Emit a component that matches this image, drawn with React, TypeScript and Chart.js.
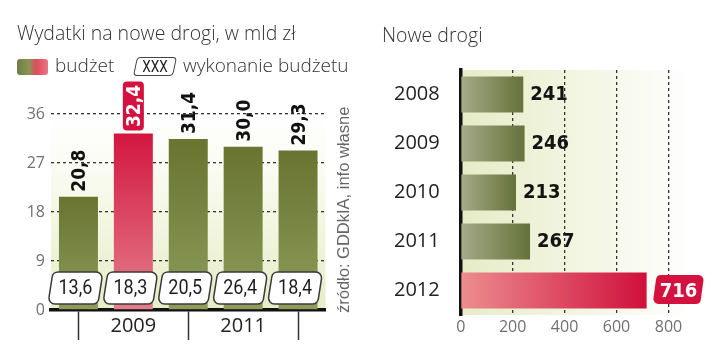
import React, { useEffect, useRef } from 'react';
import { Chart, registerables } from 'chart.js';

Chart.register(...registerables);

// ---- data ----
const spendYears = ['2008', '2009', '2010', '2011', '2012'];
const spendShownYears = ['', '2009', '', '2011', ''];
const budget = [20.8, 32.4, 31.4, 30.0, 29.3];
const executed = [13.6, 18.3, 20.5, 26.4, 18.4];
const spendTicks = [0, 9, 18, 27, 36];
const highlightSpend = 1;

const roadYears = ['2008', '2009', '2010', '2011', '2012'];
const roadKm = [241, 246, 213, 267, 716];
const roadTicks = [0, 200, 400, 600, 800];
const highlightRoad = 4;

const SANS = '"Open Sans", "DejaVu Sans", sans-serif';
const BOLD_COND = '"DejaVu Sans Condensed", "DejaVu Sans", sans-serif';
const NARROW = 'Roboto, "DejaVu Sans Condensed", sans-serif';
const CRIMSON = '#d4123f';

const fmt = (v: number) => v.toFixed(1).replace('.', ',');

function slantPath(ctx: CanvasRenderingContext2D, l: number, t: number, r: number, b: number, skew: number, rad: number) {
  ctx.beginPath();
  ctx.moveTo((l + r - skew) / 2, b);
  ctx.arcTo(l, b, l + skew, t, rad);
  ctx.arcTo(l + skew, t, r, t, rad);
  ctx.arcTo(r, t, r - skew, b, rad);
  ctx.arcTo(r - skew, b, l, b, rad);
  ctx.closePath();
}

function roundRect(ctx: CanvasRenderingContext2D, x: number, y: number, w: number, h: number, r: number) {
  ctx.beginPath();
  ctx.moveTo(x + r, y);
  ctx.arcTo(x + w, y, x + w, y + h, r);
  ctx.arcTo(x + w, y + h, x, y + h, r);
  ctx.arcTo(x, y + h, x, y, r);
  ctx.arcTo(x, y, x + w, y, r);
  ctx.closePath();
}

const leftBgPlugin = {
  id: 'leftBg',
  beforeDraw(chart: any) {
    const { ctx, chartArea: a } = chart;
    if (!a) return;
    const g = ctx.createLinearGradient(0, a.bottom, 0, a.top);
    g.addColorStop(0, '#e6edc6');
    g.addColorStop(0.75, '#fbfcf4');
    g.addColorStop(1, '#ffffff');
    ctx.save();
    ctx.fillStyle = g;
    ctx.fillRect(a.left, a.top, a.right - a.left, a.bottom - a.top);
    ctx.restore();
  },
};

const leftLabelsPlugin = {
  id: 'leftLabels',
  afterDraw(chart: any) {
    const ctx: CanvasRenderingContext2D = chart.ctx;
    const meta = chart.getDatasetMeta(0);
    const y0 = chart.scales.y.getPixelForValue(0);
    meta.data.forEach((bar: any, i: number) => {
      // rotated budget value
      const txt = fmt(budget[i]);
      const fs = 19;
      const capH = fs * 0.73;
      ctx.save();
      ctx.font = `bold ${fs}px ${BOLD_COND}`;
      const w = ctx.measureText(txt).width;
      ctx.translate(bar.x, bar.y);
      ctx.rotate(-Math.PI / 2);
      ctx.textBaseline = 'alphabetic';
      ctx.textAlign = 'left';
      if (i === highlightSpend) {
        ctx.fillStyle = CRIMSON;
        roundRect(ctx, 3, -10.5, w + 7, 21, 4);
        ctx.fill();
        ctx.fillStyle = '#ffffff';
        ctx.fillText(txt, 6.5, capH / 2);
      } else {
        ctx.fillStyle = '#111111';
        ctx.fillText(txt, 5, capH / 2);
      }
      ctx.restore();

      // executed budget box
      const cx = bar.x - 3;
      const cy = y0 - 22;
      ctx.save();
      slantPath(ctx, cx - 27.5, cy - 16, cx + 27.5, cy + 16, 5, 6);
      ctx.fillStyle = '#ffffff';
      ctx.fill();
      ctx.lineWidth = 1.5;
      ctx.strokeStyle = '#3a3a3a';
      ctx.stroke();
      ctx.fillStyle = '#1e1e1e';
      ctx.font = `20px ${NARROW}`;
      ctx.textAlign = 'center';
      ctx.textBaseline = 'middle';
      ctx.translate(cx, cy + 1);
      ctx.scale(0.9, 1);
      ctx.fillText(fmt(executed[i]), 0, 0);
      ctx.restore();
    });
  },
};

const rightBgPlugin = {
  id: 'rightBg',
  beforeDraw(chart: any) {
    const { ctx, chartArea: a } = chart;
    if (!a) return;
    const g = ctx.createLinearGradient(a.left, 0, a.left + 230, 0);
    g.addColorStop(0, '#e6ecc8');
    g.addColorStop(0.6, '#f4f7e6');
    g.addColorStop(1, '#ffffff');
    ctx.save();
    ctx.fillStyle = g;
    ctx.fillRect(a.left, a.top, a.right - a.left, a.bottom - a.top);
    ctx.restore();
  },
};

const rightLabelsPlugin = {
  id: 'rightLabels',
  afterDraw(chart: any) {
    const ctx: CanvasRenderingContext2D = chart.ctx;
    const meta = chart.getDatasetMeta(0);
    meta.data.forEach((bar: any, i: number) => {
      const txt = String(roadKm[i]);
      const fs = 20;
      const capH = fs * 0.73;
      ctx.save();
      ctx.font = `bold ${fs}px ${BOLD_COND}`;
      const w = ctx.measureText(txt).width;
      ctx.textBaseline = 'alphabetic';
      ctx.textAlign = 'left';
      if (i === highlightRoad) {
        const l = bar.x + 6;
        const r = l + w + 14;
        slantPath(ctx, l, bar.y - 15.5, r, bar.y + 13.5, 4, 5);
        ctx.fillStyle = CRIMSON;
        ctx.fill();
        ctx.fillStyle = '#ffffff';
        ctx.fillText(txt, l + 7, bar.y + capH / 2 - 1);
      } else {
        ctx.fillStyle = '#141414';
        ctx.fillText(txt, bar.x + 7, bar.y + capH / 2 - 2);
      }
      ctx.restore();
    });
  },
};

function LeftChart() {
  const ref = useRef<HTMLCanvasElement>(null);
  useEffect(() => {
    const chart = new Chart(ref.current as HTMLCanvasElement, {
      type: 'bar',
      data: {
        labels: spendYears,
        datasets: [
          {
            data: budget,
            barPercentage: 0.71,
            categoryPercentage: 1,
            backgroundColor: (c: any) => {
              const ch = c.chart;
              const hi = c.dataIndex === highlightSpend;
              if (!ch.chartArea || c.type !== 'data') return hi ? CRIMSON : '#6b7631';
              const ys = ch.scales.y;
              const top = ys.getPixelForValue(c.raw);
              const bottom = ys.getPixelForValue(0);
              const g = ch.ctx.createLinearGradient(0, top, 0, bottom);
              if (hi) {
                g.addColorStop(0, '#d3163f');
                g.addColorStop(1, '#e5808c');
              } else {
                g.addColorStop(0, '#68742f');
                g.addColorStop(1, '#8e9c5c');
              }
              return g;
            },
          },
        ],
      },
      options: {
        animation: false,
        responsive: false,
        maintainAspectRatio: false,
        layout: { padding: { top: 114, right: 44.5, left: 0, bottom: 0 } },
        plugins: { legend: { display: false }, tooltip: { enabled: false }, title: { display: false } },
        scales: {
          x: {
            grid: {
              display: true,
              drawOnChartArea: false,
              drawTicks: true,
              tickLength: 30,
              tickWidth: 1.5,
              offset: false,
              tickColor: (c: any) => (c.index % 2 === 0 ? '#333333' : 'rgba(0,0,0,0)'),
            },
            border: { display: true, width: 3.5, color: '#111111' },
            ticks: {
              padding: -26,
              autoSkip: false,
              maxRotation: 0,
              color: '#222222',
              font: { size: 20, family: SANS },
              callback: (_v: any, i: number) => spendShownYears[i],
            },
            afterFit: (s: any) => {
              s.height = 42;
            },
          },
          y: {
            min: 0,
            max: 36,
            z: 1,
            afterBuildTicks: (s: any) => {
              s.ticks = spendTicks.map((v) => ({ value: v }));
            },
            ticks: { padding: 6, color: '#707070', font: { size: 16, family: SANS } },
            grid: {
              drawTicks: false,
              lineWidth: 1.3,
              color: (c: any) => (c.tick && c.tick.value === 0 ? 'rgba(0,0,0,0)' : '#333333'),
            },
            border: { display: false, dash: [3, 3] },
            afterFit: (s: any) => {
              s.width = 51;
            },
          },
        },
      } as any,
      plugins: [leftBgPlugin, leftLabelsPlugin],
    });
    return () => chart.destroy();
  }, []);
  return <canvas ref={ref} width={370} height={352} style={{ position: 'absolute', left: 0, top: 0, width: 370, height: 352 }} />;
}

function RightChart() {
  const ref = useRef<HTMLCanvasElement>(null);
  useEffect(() => {
    const chart = new Chart(ref.current as HTMLCanvasElement, {
      type: 'bar',
      data: {
        labels: roadYears,
        datasets: [
          {
            data: roadKm,
            barPercentage: 0.73,
            categoryPercentage: 1,
            backgroundColor: (c: any) => {
              const ch = c.chart;
              const hi = c.dataIndex === highlightRoad;
              if (!ch.chartArea || c.type !== 'data') return hi ? CRIMSON : '#6b7631';
              const xs = ch.scales.x;
              const left = xs.getPixelForValue(0);
              const right = xs.getPixelForValue(c.raw);
              const g = ch.ctx.createLinearGradient(left, 0, right, 0);
              if (hi) {
                g.addColorStop(0, '#ec8d8f');
                g.addColorStop(1, '#d0103b');
              } else {
                g.addColorStop(0, '#a6ab88');
                g.addColorStop(1, '#65723a');
              }
              return g;
            },
          },
        ],
      },
      options: {
        indexAxis: 'y',
        animation: false,
        responsive: false,
        maintainAspectRatio: false,
        layout: { padding: { top: 70, right: 10, left: 0, bottom: 0 } },
        plugins: { legend: { display: false }, tooltip: { enabled: false }, title: { display: false } },
        scales: {
          x: {
            min: 0,
            max: 960,
            z: 1,
            afterBuildTicks: (s: any) => {
              s.ticks = roadTicks.map((v) => ({ value: v }));
            },
            ticks: { padding: 3, color: '#707070', font: { size: 16, family: SANS } },
            grid: {
              drawTicks: false,
              lineWidth: 1.3,
              color: (c: any) => (c.tick && c.tick.value === 0 ? 'rgba(0,0,0,0)' : '#333333'),
            },
            border: { display: false, dash: [3, 3] },
            afterFit: (s: any) => {
              s.height = 37;
            },
          },
          y: {
            z: 1,
            grid: { display: false },
            border: { display: true, width: 3.5, color: '#111111' },
            ticks: { padding: 13, color: '#222222', font: { size: 20, family: SANS } },
            afterFit: (s: any) => {
              s.width = 90.7;
            },
          },
        },
      } as any,
      plugins: [rightBgPlugin, rightLabelsPlugin],
    });
    return () => chart.destroy();
  }, []);
  return <canvas ref={ref} width={350} height={352} style={{ position: 'absolute', left: 370, top: 0, width: 350, height: 352 }} />;
}

export default function App() {
  return (
    <div style={{ position: 'absolute', left: 0, top: 0, width: 720, height: 352, background: '#ffffff', overflow: 'hidden', fontFamily: SANS, color: '#333333' }}>
      <LeftChart />
      <RightChart />
      <div style={{ position: 'absolute', left: 17, top: 23, fontSize: 19.5, lineHeight: '20px', fontWeight: 300, whiteSpace: 'nowrap' }}>
        Wydatki na nowe drogi, w mld zł
      </div>
      <div
        style={{
          position: 'absolute',
          left: 17,
          top: 59,
          width: 31,
          height: 16,
          borderRadius: 3,
          background: 'linear-gradient(90deg, #6f7d42 0%, #8a9456 40%, #e04a5c 62%, #e77784 100%)',
        }}
      />
      <div style={{ position: 'absolute', left: 55, top: 55, fontSize: 19, lineHeight: '20px', fontWeight: 300, whiteSpace: 'nowrap' }}>budżet</div>
      <div
        style={{
          position: 'absolute',
          left: 135,
          top: 57,
          width: 38,
          height: 17,
          border: '1.5px solid #444444',
          borderRadius: 4,
          transform: 'skewX(-12deg)',
          display: 'flex',
          alignItems: 'center',
          justifyContent: 'center',
        }}
      >
        <span style={{ transform: 'skewX(12deg) scaleX(0.85)', fontFamily: NARROW, fontSize: 16, color: '#222222', lineHeight: '16px' }}>XXX</span>
      </div>
      <div style={{ position: 'absolute', left: 183, top: 55, fontSize: 19, lineHeight: '20px', fontWeight: 300, whiteSpace: 'nowrap' }}>
        wykonanie budżetu
      </div>
      <div style={{ position: 'absolute', left: 382, top: 24.5, fontSize: 19.5, lineHeight: '20px', fontWeight: 300, whiteSpace: 'nowrap' }}>
        Nowe drogi
      </div>
      <div
        style={{
          position: 'absolute',
          left: 335,
          top: 98,
          height: 215,
          width: 16,
          writingMode: 'vertical-rl',
          transform: 'rotate(180deg)',
          fontFamily: '"Liberation Sans", Arial, sans-serif',
          fontSize: 16.5,
          lineHeight: '16px',
          color: '#666666',
          whiteSpace: 'nowrap',
        }}
      >
        źródło: GDDkIA, info własne
      </div>
    </div>
  );
}
